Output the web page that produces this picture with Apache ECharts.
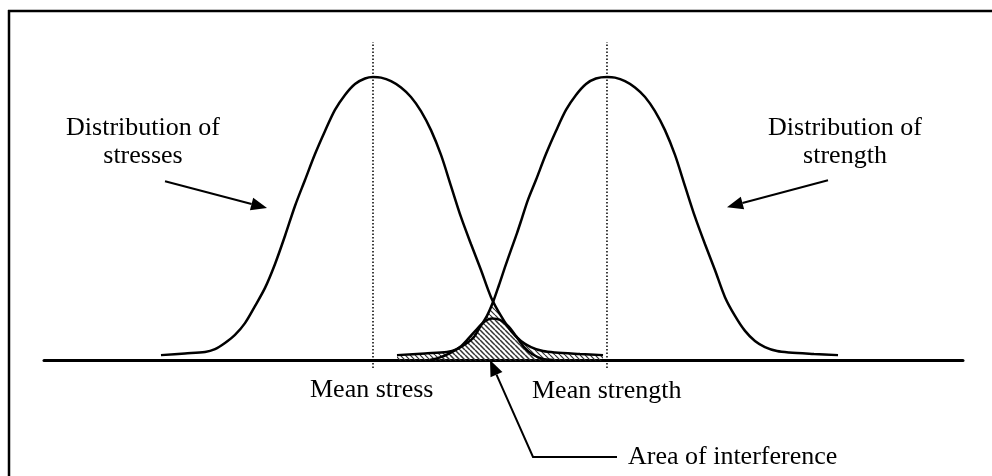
<!DOCTYPE html>
<html>
<head>
<meta charset="utf-8">
<title>Stress-strength interference</title>
<script src="https://cdn.jsdelivr.net/npm/echarts@6/dist/echarts.min.js"></script>
<style>
  html, body { margin: 0; padding: 0; background: #fff; overflow: hidden; }
  #chart { width: 992px; height: 476px; }
</style>
</head>
<body>
<div id="chart"></div>
<script>
// points, [x, density]
const stressCurve = [
  [12.73, 0.019], [15.34, 0.025], [17.52, 0.030], [18.61, 0.040], [19.69, 0.061],
  [20.78, 0.089], [21.87, 0.130], [22.96, 0.189], [24.05, 0.252], [25.14, 0.335],
  [26.22, 0.432], [27.31, 0.536], [28.40, 0.626], [29.49, 0.716], [30.58, 0.796],
  [31.66, 0.869], [32.75, 0.921], [33.84, 0.959], [34.93, 0.978], [35.80, 0.983],
  [36.67, 0.981], [37.76, 0.969], [38.85, 0.947], [39.93, 0.914], [41.02, 0.865],
  [42.11, 0.799], [43.20, 0.713], [44.29, 0.605], [45.37, 0.498], [46.46, 0.404],
  [47.55, 0.314], [48.64, 0.220], [49.73, 0.155], [50.81, 0.103], [51.90, 0.068],
  [52.99, 0.047], [54.30, 0.033], [55.60, 0.028], [58.32, 0.023], [60.83, 0.019]
]
const strengthCurve = [
  [38.41, 0.019], [41.46, 0.025], [43.85, 0.030], [44.94, 0.040], [46.03, 0.061],
  [46.79, 0.082], [47.44, 0.116], [48.20, 0.155], [48.86, 0.203], [49.51, 0.262],
  [50.16, 0.324], [50.81, 0.383], [51.47, 0.442], [52.01, 0.494], [52.66, 0.557],
  [53.53, 0.626], [54.62, 0.716], [55.71, 0.796], [56.80, 0.869], [57.89, 0.921],
  [58.98, 0.959], [60.06, 0.978], [61.26, 0.983], [62.13, 0.981], [63.22, 0.969],
  [64.31, 0.947], [65.40, 0.914], [66.48, 0.865], [67.57, 0.799], [68.66, 0.713],
  [69.75, 0.605], [70.84, 0.498], [71.92, 0.404], [73.01, 0.314], [74.10, 0.220],
  [75.19, 0.155], [76.28, 0.103], [77.36, 0.068], [78.45, 0.047], [79.76, 0.033],
  [81.06, 0.028], [83.78, 0.023], [86.40, 0.019]
]
const interferenceCurve = [
  [42.00, 0.002], [43.09, 0.011], [44.18, 0.026], [45.26, 0.047], [46.14, 0.075],
  [47.01, 0.106], [47.88, 0.134], [48.75, 0.146], [49.62, 0.141], [50.49, 0.120],
  [51.36, 0.085], [52.23, 0.047], [53.10, 0.023], [54.19, 0.007], [55.39, 0.002]
]
// upper edge of the hatched overlap
const overlapEdge = [
  [38.41, 0.019], [41.46, 0.025], [43.85, 0.030], [44.94, 0.040], [46.03, 0.061],
  [46.79, 0.082], [47.44, 0.116], [48.20, 0.155], [48.80, 0.207], [49.73, 0.155],
  [50.81, 0.103], [51.90, 0.068], [52.99, 0.047], [54.30, 0.033], [55.60, 0.028],
  [58.32, 0.023], [60.83, 0.019]
]
const meanStress = 35.8
const meanStrength = 61.26
const meanLineSpan = [-0.026, 1.104]
const arrowStress = [[13.17, 0.622], [24.27, 0.529]]
const arrowStrength = [[85.31, 0.625], [74.32, 0.532]]
const arrowOverlap = [[62.35, -0.334], [53.21, -0.334], [48.53, 0.002]]

const FONT = '26px "Liberation Serif", "Times New Roman", serif'

function hatch() {
  const n = 5
  const c = document.createElement('canvas')
  c.width = n
  c.height = n
  const g = c.getContext('2d')
  g.strokeStyle = '#333'
  g.lineWidth = 1.2
  for (const k of [-n, 0, n]) {
    g.beginPath()
    g.moveTo(k, 0)
    g.lineTo(k + n, n)
    g.stroke()
  }
  return c
}
const hatchFill = { image: hatch(), repeat: 'repeat' }

const chart = echarts.init(document.getElementById('chart'))

const curve = (name, data, z) => ({
  name: name,
  type: 'line',
  data: data,
  smooth: 0.3,
  symbol: 'none',
  lineStyle: { color: '#000', width: 2.5 },
  z: z
})

chart.setOption({
  backgroundColor: '#fff',
  animation: false,
  grid: { left: 44, right: 29, top: 0, bottom: 0 },
  xAxis: {
    type: 'value',
    min: 0,
    max: 100,
    axisLine: { show: true, onZero: true, lineStyle: { color: '#000', width: 3 } },
    axisTick: { show: false },
    axisLabel: { show: false },
    splitLine: { show: false }
  },
  yAxis: {
    type: 'value',
    min: -0.4,
    max: 1.25,
    show: false
  },
  series: [
    {
      name: 'overlap',
      type: 'line',
      data: overlapEdge,
      symbol: 'none',
      lineStyle: { width: 0, opacity: 0 },
      areaStyle: { color: hatchFill, opacity: 1 },
      z: 1
    },
    Object.assign(curve('interference', interferenceCurve, 2), {
      areaStyle: { color: hatchFill, opacity: 1 }
    }),
    curve('stress', stressCurve, 3),
    curve('strength', strengthCurve, 3)
  ]
})

const px = p => chart.convertToPixel({ seriesIndex: 0 }, p)

// arrow: polyline shaft plus filled head at the last point
function arrow(points) {
  const p = points.map(px)
  const tip = p[p.length - 1]
  const prev = p[p.length - 2]
  const len = Math.hypot(tip[0] - prev[0], tip[1] - prev[1])
  const dx = (tip[0] - prev[0]) / len
  const dy = (tip[1] - prev[1]) / len
  const L = 16, W = 6.5
  const base = [tip[0] - dx * L, tip[1] - dy * L]
  const shaft = p.slice(0, -1).concat([base])
  return [
    { type: 'polyline', shape: { points: shaft }, style: { stroke: '#000', lineWidth: 2, fill: null }, z: 10 },
    {
      type: 'polygon',
      shape: { points: [tip, [base[0] - dy * W, base[1] + dx * W], [base[0] + dy * W, base[1] - dx * W]] },
      style: { fill: '#000' },
      z: 10
    }
  ]
}

function meanLine(x) {
  const a = px([x, meanLineSpan[0]])
  const b = px([x, meanLineSpan[1]])
  return {
    type: 'line',
    shape: { x1: a[0], y1: a[1], x2: b[0], y2: b[1] },
    style: { stroke: '#000', lineWidth: 1.5, lineDash: [1.5, 2] },
    z: 5
  }
}

function label(text, x, y, align) {
  return {
    type: 'text',
    x: x,
    y: y,
    style: { text: text, font: FONT, fill: '#000', align: align || 'left', verticalAlign: 'middle' },
    z: 10
  }
}

// page frame: only the top and left edges fall inside the picture
const frameEdge = (x1, y1, x2, y2) => ({
  type: 'line',
  shape: { x1: x1, y1: y1, x2: x2, y2: y2 },
  style: { stroke: '#000', lineWidth: 2.5 },
  z: 10
})

chart.setOption({
  graphic: [
    frameEdge(9, 10, 9, 476),
    frameEdge(8, 11, 992, 11),
    meanLine(meanStress),
    meanLine(meanStrength),
    ...arrow(arrowStress),
    ...arrow(arrowStrength),
    ...arrow(arrowOverlap),
    label('Distribution of', 143, 128, 'center'),
    label('stresses', 143, 156, 'center'),
    label('Distribution of', 845, 128, 'center'),
    label('strength', 845, 156, 'center'),
    label('Mean stress', 310, 390),
    label('Mean strength', 532, 391),
    label('Area of interference', 628, 457)
  ]
})
</script>
</body>
</html>
